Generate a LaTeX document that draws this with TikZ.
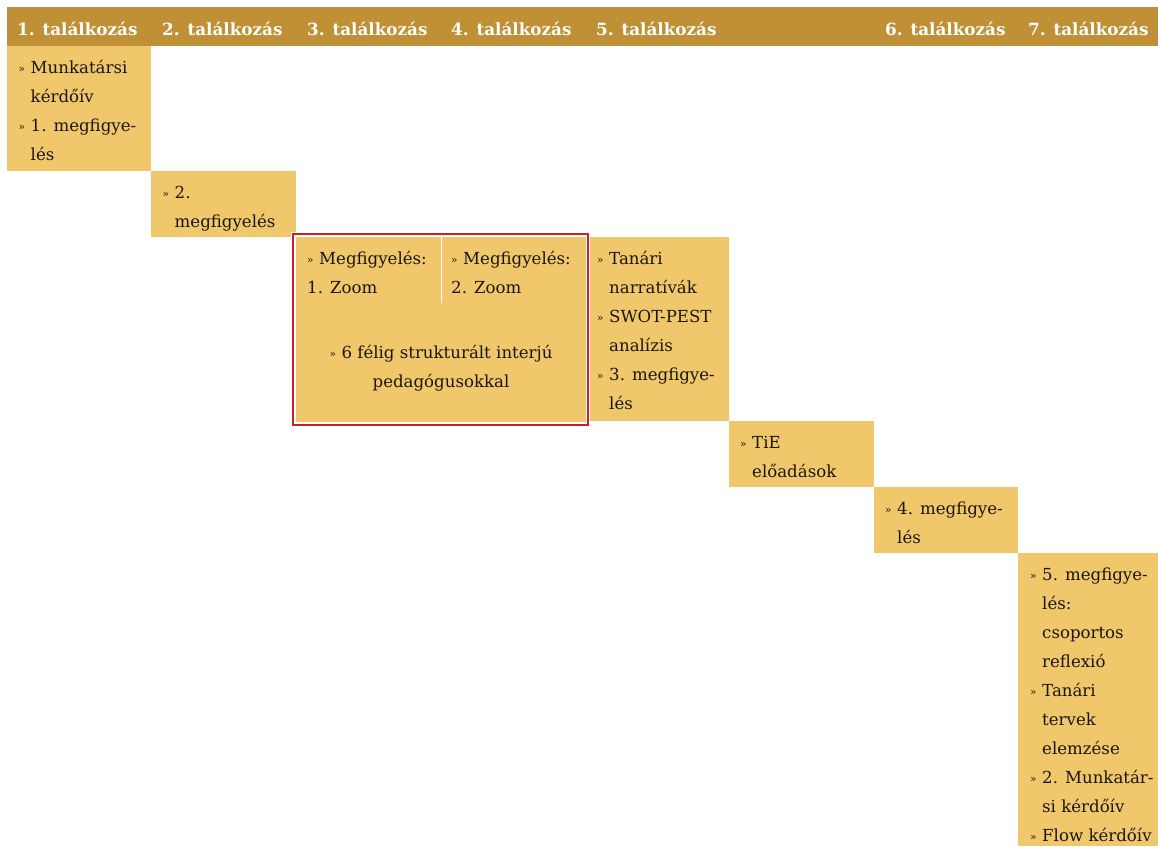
\documentclass[tikz,border=0pt]{standalone}
\usepackage{fontspec}
\setmainfont{DejaVu Serif}
\definecolor{hdr}{RGB}{192,144,54}
\definecolor{gold}{RGB}{240,199,106}
\definecolor{redb}{RGB}{204,32,39}
\definecolor{ink}{RGB}{26,22,18}
\newcommand\bu{\makebox[12pt][l]{\raisebox{1pt}{\fontsize{10.5}{10}\selectfont »}}\strut}
\newcommand\ci{\hspace*{12pt}\strut}
\tikzset{
  cell/.style={fill=gold},
  txt/.style={inner sep=0pt, anchor=north west, align=left, text=ink, font=\fontsize{16.6}{29}\selectfont},
  ctxt/.style={inner sep=0pt, anchor=north, align=center, text=ink, font=\fontsize{16.6}{29}\selectfont},
  head/.style={inner sep=0pt, anchor=base west, text=white, font=\fontsize{16.8}{20}\selectfont\bfseries},
}
\begin{document}
\begin{tikzpicture}[x=1pt,y=-1pt]
\useasboundingbox (0,0) rectangle (1158,846);
% header bar
\fill[hdr] (7,7) rectangle (1158,46);
\node[head] (h1) at (17,35) {1. találkozás};
\node[head] (h2) at (162,35) {2. találkozás};
\node[head] (h3) at (307,35) {3. találkozás};
\node[head] (h4) at (451,35) {4. találkozás};
\node[head] (h5) at (596,35) {5. találkozás};
\node[head] (h6) at (885,35) {6. találkozás};
\node[head] (h7) at (1028,35) {7. találkozás};
% cells
\fill[cell] (7,46) rectangle (151,171);
\fill[cell] (151,171) rectangle (296,237);
\fill[cell] (296,237) rectangle (586,422);
\fill[cell] (586,237) rectangle (729,421);
\fill[cell] (729,421) rectangle (874,487);
\fill[cell] (874,487) rectangle (1018,553);
\fill[cell] (1018,553) rectangle (1158,846);
% white divider in merged cell
\draw[white, line width=1pt] (441,237) -- (441,303);
% red frame
\draw[white, line width=4pt] (293,234) rectangle (588,425);
\draw[redb, line width=2.2pt] (293,234) rectangle (588,425);
% texts
\node[txt] (t1) at (18.5,52.7) {\bu Munkatársi\\ \ci kérdőív\\ \bu 1. megfigye-\\ \ci lés};
\node[txt] (t2) at (162.5,177.7) {\bu 2.\\ \ci megfigyelés};
\node[txt] (t3a) at (307,243.7) {\bu Megfigyelés:\\ \strut 1. Zoom};
\node[txt] (t3b) at (451,243.7) {\bu Megfigyelés:\\ \strut 2. Zoom};
\node[ctxt] (t3c) at (441,337.7) {\bu 6 félig strukturált interjú\\ \strut pedagógusokkal};
\node[txt] (t5) at (597,243.7) {\bu Tanári\\ \ci narratívák\\ \bu SWOT-PEST\\ \ci analízis\\ \bu 3. megfigye-\\ \ci lés};
\node[txt] (t6) at (740,427.7) {\bu TiE\\ \ci előadások};
\node[txt] (t7) at (885,493.7) {\bu 4. megfigye-\\ \ci lés};
\node[txt] (t8) at (1030,559.7) {\bu 5. megfigye-\\ \ci lés:\\ \ci csoportos\\ \ci reflexió\\ \bu Tanári\\ \ci tervek\\ \ci elemzése\\ \bu 2. Munkatár-\\ \ci si kérdőív\\ \bu Flow kérdőív};
\end{tikzpicture}
\end{document}
